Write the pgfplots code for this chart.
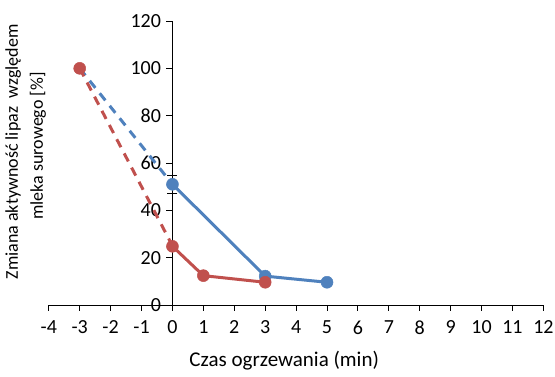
\documentclass[border=0pt]{standalone}
\usepackage{pgfplots}
\pgfplotsset{compat=1.18}
\usepackage{fontspec}
\setmainfont{Carlito}
\definecolor{exblue}{HTML}{4F81BD}
\definecolor{exred}{HTML}{C0504D}
\begin{document}
\begin{tikzpicture}[x=1pt,y=1pt]
\useasboundingbox (-48.8,-72) rectangle (506.2,305);
\begin{axis}[
  at={(0,0)}, anchor=south west,
  scale only axis, width=494.6pt, height=284pt,
  xmin=-4, xmax=12, ymin=0, ymax=120,
  axis lines=middle,
  axis line style={-, line width=0.9pt},
  every inner x axis line/.append style={-},
  every inner y axis line/.append style={-},
  hide obscured x ticks=false, hide obscured y ticks=false,
  xtick={-4,-3,...,12}, ytick={0,20,...,120},
  tick align=outside, major tick length=6pt,
  tick style={black, line width=0.9pt},
  /pgf/number format/assume math mode=true,
  tick label style={font=\fontsize{20}{23}\selectfont},
  xticklabel style={yshift=-6pt},
  yticklabel style={xshift=-2pt},
  xlabel={Czas ogrzewania (min)},
  ylabel={Zmiana aktywność lipaz\ \ względem\\\hspace*{12pt}mleka surowego [\%]},
  xlabel style={at={(rel axis cs:0.476,-0.195)}, anchor=center, font=\fontsize{21}{24}\selectfont},
  ylabel style={at={(rel axis cs:-0.047,0.539)}, anchor=center, rotate=90, align=center, font=\fontsize{18}{25}\selectfont},
  clip=false,
]
\addplot[exblue, line width=3pt, dash pattern=on 9pt off 7pt, forget plot] coordinates {(-3,100) (0,51)};
\addplot[exred, line width=3pt, dash pattern=on 9pt off 7pt, forget plot] coordinates {(-3,100) (0,25)};
\addplot[exblue, line width=3pt, mark=*, mark size=6pt, mark options={solid, line width=0.5pt, fill=exblue, draw=exblue},
  error bars/.cd, y dir=both, y explicit, error bar style={black, line width=0.9pt}, error mark options={black, line width=0.9pt, mark size=5pt, rotate=90}]
  coordinates {(0,51) +- (0,3.8) (3,12.2) +- (0,0) (5,9.6) +- (0,0)};
\addplot[exred, line width=3pt, mark=*, mark size=6pt, mark options={solid, line width=0.5pt, fill=exred, draw=exred}]
  coordinates {(0,24.8) (1,12.4) (3,9.6)};
\addplot[exred, only marks, mark=*, mark size=6pt, mark options={line width=0.5pt, fill=exred, draw=exred}]
  coordinates {(-3,100)};
\end{axis}
\end{tikzpicture}
\end{document}
